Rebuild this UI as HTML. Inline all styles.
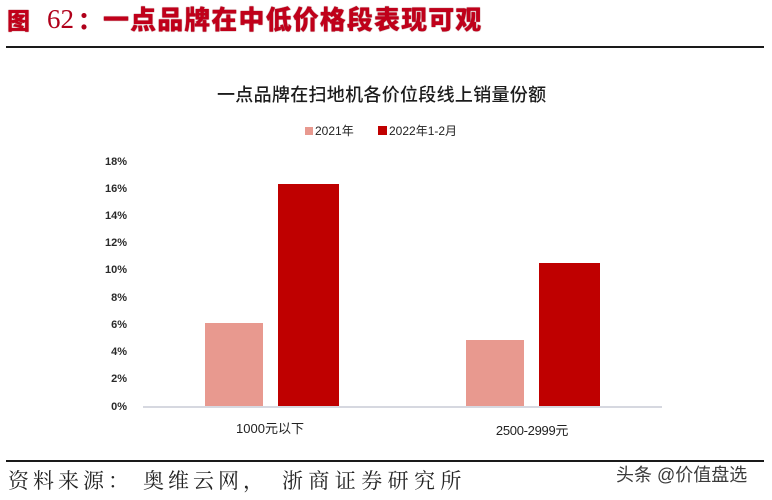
<!DOCTYPE html>
<html>
<head>
<meta charset="utf-8">
<style>
  html,body{margin:0;padding:0;background:#fff;}
  #c{position:relative;width:772px;height:500px;overflow:hidden;background:#fff;}
  .a{position:absolute;white-space:nowrap;}
  .t{font-family:"Liberation Sans","Noto Sans CJK SC",sans-serif;}
  .yl{position:absolute;left:80px;width:47px;text-align:right;font-family:"Liberation Sans",sans-serif;font-size:11px;font-weight:bold;color:#2a2a2a;line-height:12px;}
  .bar{position:absolute;}
</style>
</head>
<body>
<div id="c">
  <!-- Title -->
  <div class="a" style="left:7px;top:4px;font-family:'Noto Sans CJK SC',sans-serif;font-weight:900;font-size:23px;line-height:30px;color:#c0001a;text-shadow:0 0 1px #8a0010;">图</div>
  <div class="a" style="left:47px;top:3px;font-family:'Liberation Serif',serif;font-size:27px;line-height:32px;color:#b0001a;">62</div>
  <div class="a" style="left:78px;top:3px;font-family:'Noto Sans CJK SC',sans-serif;font-weight:900;font-size:24px;line-height:32px;color:#b0001a;">：</div>
  <div class="a" style="left:103px;top:2px;font-family:'Noto Sans CJK SC',sans-serif;font-weight:900;font-size:26px;letter-spacing:1.1px;line-height:34px;color:#c0001a;text-shadow:0 0 1px #7a0010;">一点品牌在中低价格段表现可观</div>
  <div class="a" style="left:6px;top:46px;width:758px;height:2px;background:#1a1a1a;"></div>

  <!-- Chart title -->
  <div class="a t" style="left:217px;top:83px;font-size:18px;letter-spacing:0.3px;line-height:24px;color:#1c1c1c;font-weight:500;">一点品牌在扫地机各价位段线上销量份额</div>

  <!-- Legend -->
  <div class="a" style="left:305px;top:127px;width:8px;height:8px;background:#e8998f;"></div>
  <div class="a t" style="left:315px;top:123px;font-size:12px;line-height:16px;color:#222;">2021年</div>
  <div class="a" style="left:378px;top:126px;width:9px;height:9px;background:#c00000;"></div>
  <div class="a t" style="left:389px;top:123px;font-size:12px;line-height:16px;color:#222;">2022年1-2月</div>

  <!-- Y axis labels -->
  <div class="yl" style="top:156px;">18%</div>
  <div class="yl" style="top:183px;">16%</div>
  <div class="yl" style="top:210px;">14%</div>
  <div class="yl" style="top:237px;">12%</div>
  <div class="yl" style="top:264px;">10%</div>
  <div class="yl" style="top:292px;">8%</div>
  <div class="yl" style="top:319px;">6%</div>
  <div class="yl" style="top:346px;">4%</div>
  <div class="yl" style="top:373px;">2%</div>
  <div class="yl" style="top:401px;">0%</div>

  <!-- Bars -->
  <div class="bar" style="left:205px;top:323px;width:58px;height:84px;background:#e8998f;"></div>
  <div class="bar" style="left:278px;top:184px;width:61px;height:223px;background:#bf0000;"></div>
  <div class="bar" style="left:466px;top:340px;width:58px;height:67px;background:#e8998f;"></div>
  <div class="bar" style="left:539px;top:263px;width:61px;height:144px;background:#bf0000;"></div>

  <!-- Axis line -->
  <div class="a" style="left:143px;top:406px;width:519px;height:2px;background:#d6d8e0;"></div>

  <!-- Category labels -->
  <div class="a t" style="left:220px;top:421px;width:100px;text-align:center;font-size:13px;line-height:16px;color:#222;">1000元以下</div>
  <div class="a t" style="left:472px;top:423px;width:120px;text-align:center;font-size:13px;line-height:16px;color:#222;letter-spacing:-0.3px;">2500-2999元</div>

  <!-- Footer -->
  <div class="a" style="left:6px;top:460px;width:758px;height:2px;background:#1a1a1a;"></div>
  <div class="a" style="left:8px;top:466px;font-family:'Noto Serif CJK SC',serif;font-size:21px;letter-spacing:4px;line-height:28px;color:#222;">资料来源：</div>
  <div class="a" style="left:143px;top:466px;font-family:'Noto Serif CJK SC',serif;font-size:21px;letter-spacing:4px;line-height:28px;color:#222;">奥维云网，</div>
  <div class="a" style="left:282px;top:466px;font-family:'Noto Serif CJK SC',serif;font-size:21px;letter-spacing:5.4px;line-height:28px;color:#222;">浙商证券研究所</div>

  <!-- Watermark -->
  <div class="a t" style="left:616px;top:463px;font-size:18px;line-height:24px;color:#3a3a3a;text-shadow:0 0 2px #fff,0 0 2px #fff;">头条 @价值盘选</div>
</div>
</body>
</html>
